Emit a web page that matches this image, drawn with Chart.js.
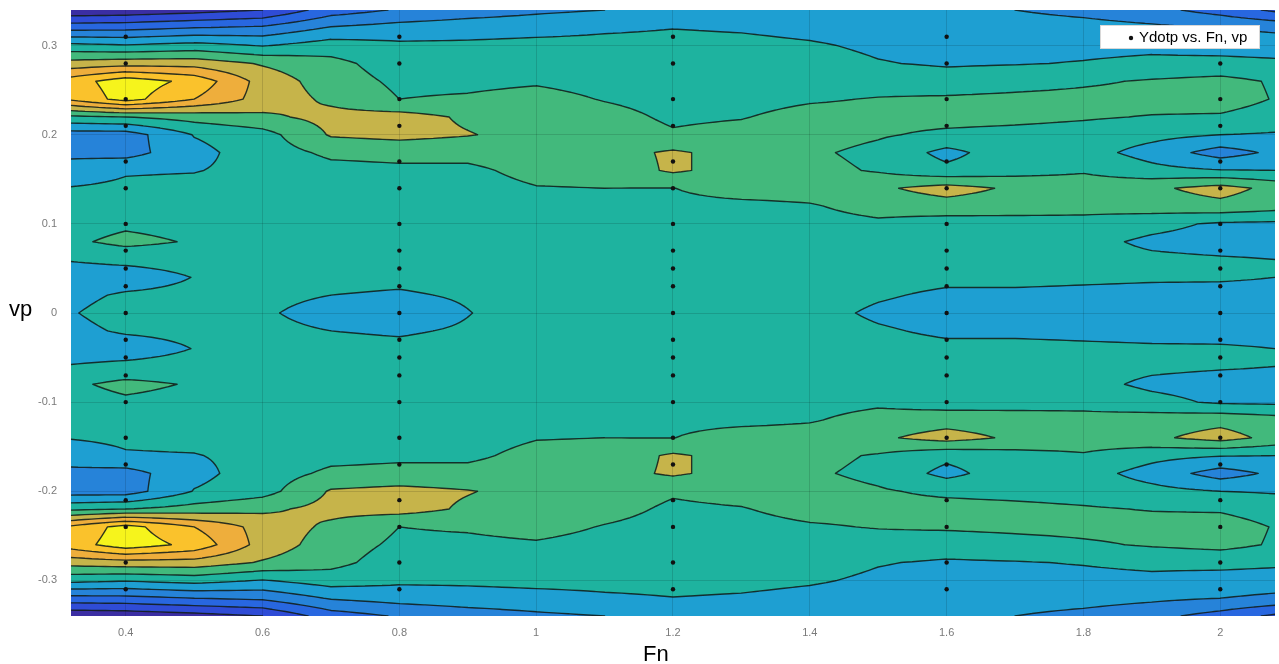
<!DOCTYPE html>
<html>
<head>
<meta charset="utf-8">
<title>Ydotp vs. Fn, vp</title>
<script src="https://cdn.jsdelivr.net/npm/chart.js@4.4.1/dist/chart.umd.min.js"></script>
<style>
  html, body { margin: 0; padding: 0; background: #fff; }
  #wrap { width: 1279px; height: 664px; }
</style>
</head>
<body>
<div id="wrap"><canvas id="contourChart" width="1279" height="664"></canvas></div>
<script>
// measured points (black dots)
const fnSamples = [0.4, 0.8, 1.2, 1.6, 2.0];
const vpSamples = [0.31, 0.28, 0.24, 0.21, 0.17, 0.14, 0.10, 0.07, 0.05, 0.03, 0,
                   -0.03, -0.05, -0.07, -0.10, -0.14, -0.17, -0.21, -0.24, -0.28, -0.31];

// fitted surface, in contour-level units
// columns = fnGrid, rows = vpGrid (top row first)
const fnGrid = [0.32, 0.4, 0.5, 0.6, 0.7, 0.8, 0.9, 1.0, 1.1, 1.2, 1.3, 1.4, 1.5, 1.6, 1.7, 1.8, 1.9, 2.0, 2.08];
const vpGrid = [0.34, 0.32, 0.30, 0.28, 0.26, 0.24, 0.22, 0.20, 0.18, 0.16, 0.14, 0.12, 0.10, 0.08, 0.06, 0.04, 0.02, 0,
                -0.02, -0.04, -0.06, -0.08, -0.10, -0.12, -0.14, -0.16, -0.18, -0.20, -0.22, -0.24, -0.26, -0.28, -0.30, -0.32, -0.34];
const zGrid = [
  [0.2, 0.3, 0.6, 1.0, 2.5, 3.1, 3.5, 3.8, 4.0, 4.2, 4.3, 4.35, 4.35, 4.3, 4.0, 3.7, 3.3, 2.6, 1.8],
  [2.64, 2.7, 3.0, 3.2, 4.1, 4.4, 4.55, 4.65, 4.85, 4.98, 4.9, 4.75, 4.65, 4.55, 4.5, 4.4, 4.2, 4.0, 3.8],
  [5.3, 5.1, 5.4, 4.95, 5.5, 5.2, 5.2, 5.3, 5.3, 5.3, 5.25, 5.1, 4.85, 4.7, 4.7, 4.75, 4.8, 4.6, 4.5],
  [7.4, 7.6, 7.6, 6.9, 6.3, 5.5, 5.5, 5.6, 5.5, 5.45, 5.45, 5.35, 5.05, 4.9, 4.95, 5.05, 5.2, 5.3, 5.2],
  [9.5, 10.6, 9.7, 7.6, 6.5, 5.8, 5.8, 5.9, 5.7, 5.6, 5.55, 5.6, 5.6, 5.4, 5.6, 5.85, 6.1, 6.3, 5.9],
  [9.2, 10.4, 9.0, 7.6, 6.8, 6.0, 6.1, 6.3, 5.95, 5.7, 5.7, 5.9, 6.05, 6.15, 6.25, 6.3, 6.35, 6.4, 5.95],
  [5.8, 6.0, 6.4, 6.8, 7.3, 7.4, 6.85, 6.6, 6.3, 5.85, 5.95, 6.3, 6.3, 6.35, 6.25, 6.1, 5.95, 5.9, 5.6],
  [3.5, 3.5, 5.05, 5.6, 7.1, 7.3, 7.05, 6.7, 6.5, 6.1, 6.3, 6.4, 6.1, 5.8, 5.7, 5.6, 5.3, 5.0, 4.9],
  [3.75, 3.6, 4.7, 5.5, 6.2, 6.3, 6.3, 6.5, 6.6, 7.15, 6.6, 6.15, 5.75, 4.7, 5.6, 5.4, 4.6, 3.55, 4.2],
  [4.45, 4.9, 4.95, 5.3, 5.7, 5.8, 5.8, 6.3, 6.4, 7.15, 6.6, 6.3, 5.9, 5.25, 5.6, 5.9, 5.3, 5.05, 5.0],
  [5.05, 5.2, 5.3, 5.4, 5.5, 5.6, 5.6, 5.95, 6.0, 5.98, 6.5, 6.5, 6.83, 7.4, 6.83, 6.5, 6.8, 7.4, 6.7],
  [5.3, 5.4, 5.5, 5.5, 5.5, 5.5, 5.5, 5.7, 5.7, 5.7, 5.7, 5.9, 6.4, 6.6, 6.45, 6.3, 6.5, 6.7, 6.4],
  [5.5, 5.8, 5.6, 5.5, 5.5, 5.5, 5.5, 5.6, 5.6, 5.6, 5.6, 5.6, 5.8, 5.5, 5.6, 5.7, 5.3, 4.85, 4.8],
  [5.8, 6.3, 5.9, 5.5, 5.4, 5.5, 5.5, 5.6, 5.6, 5.6, 5.55, 5.55, 5.5, 5.45, 5.45, 5.3, 4.8, 4.6, 4.6],
  [5.05, 5.2, 5.3, 5.5, 5.3, 5.4, 5.4, 5.6, 5.6, 5.55, 5.55, 5.5, 5.45, 5.4, 5.4, 5.35, 5.2, 5.1, 5.0],
  [4.6, 4.6, 5.02, 5.4, 5.25, 5.2, 5.3, 5.5, 5.55, 5.55, 5.5, 5.5, 5.3, 5.2, 5.2, 5.15, 5.1, 5.1, 5.0],
  [4.8, 5.1, 5.2, 5.2, 5.0, 4.9, 5.1, 5.45, 5.5, 5.5, 5.5, 5.4, 5.1, 4.85, 4.85, 4.8, 4.75, 4.7, 4.7],
  [4.95, 5.3, 5.4, 5.1, 4.7, 4.5, 4.97, 5.4, 5.5, 5.5, 5.45, 5.3, 4.85, 4.6, 4.6, 4.6, 4.5, 4.5, 4.5],
  [4.8, 5.1, 5.2, 5.2, 5.0, 4.9, 5.1, 5.45, 5.5, 5.5, 5.5, 5.4, 5.1, 4.85, 4.85, 4.8, 4.75, 4.7, 4.7],
  [4.6, 4.6, 5.02, 5.4, 5.25, 5.2, 5.3, 5.5, 5.55, 5.55, 5.5, 5.5, 5.3, 5.2, 5.2, 5.15, 5.1, 5.1, 5.0],
  [5.05, 5.2, 5.3, 5.5, 5.3, 5.4, 5.4, 5.6, 5.6, 5.55, 5.55, 5.5, 5.45, 5.4, 5.4, 5.35, 5.2, 5.1, 5.0],
  [5.8, 6.3, 5.9, 5.5, 5.4, 5.5, 5.5, 5.6, 5.6, 5.6, 5.55, 5.55, 5.5, 5.45, 5.45, 5.3, 4.8, 4.6, 4.6],
  [5.5, 5.8, 5.6, 5.5, 5.5, 5.5, 5.5, 5.6, 5.6, 5.6, 5.6, 5.6, 5.8, 5.5, 5.6, 5.7, 5.3, 4.85, 4.8],
  [5.3, 5.4, 5.5, 5.5, 5.5, 5.5, 5.5, 5.7, 5.7, 5.7, 5.7, 5.9, 6.4, 6.6, 6.45, 6.3, 6.5, 6.7, 6.4],
  [5.05, 5.2, 5.3, 5.4, 5.5, 5.6, 5.6, 5.95, 6.0, 5.98, 6.5, 6.5, 6.83, 7.4, 6.83, 6.5, 6.8, 7.4, 6.7],
  [4.45, 4.9, 4.95, 5.3, 5.7, 5.8, 5.8, 6.3, 6.4, 7.15, 6.6, 6.3, 5.9, 5.25, 5.6, 5.9, 5.3, 5.05, 5.0],
  [3.75, 3.6, 4.7, 5.5, 6.2, 6.3, 6.3, 6.5, 6.6, 7.15, 6.6, 6.15, 5.75, 4.7, 5.6, 5.4, 4.6, 3.55, 4.2],
  [3.5, 3.5, 5.05, 5.6, 7.1, 7.3, 7.05, 6.7, 6.5, 6.1, 6.3, 6.4, 6.1, 5.8, 5.7, 5.6, 5.3, 5.0, 4.9],
  [5.8, 6.0, 6.4, 6.8, 7.3, 7.4, 6.85, 6.6, 6.3, 5.85, 5.95, 6.3, 6.3, 6.35, 6.25, 6.1, 5.95, 5.9, 5.6],
  [9.2, 10.4, 9.0, 7.6, 6.8, 6.0, 6.1, 6.3, 5.95, 5.7, 5.7, 5.9, 6.05, 6.15, 6.25, 6.3, 6.35, 6.4, 5.95],
  [9.5, 10.6, 9.7, 7.6, 6.5, 5.8, 5.8, 5.9, 5.7, 5.6, 5.55, 5.6, 5.6, 5.4, 5.6, 5.85, 6.1, 6.3, 5.9],
  [7.4, 7.6, 7.6, 6.9, 6.3, 5.5, 5.5, 5.6, 5.5, 5.45, 5.45, 5.35, 5.05, 4.9, 4.95, 5.05, 5.2, 5.3, 5.2],
  [5.3, 5.1, 5.4, 4.95, 5.5, 5.2, 5.2, 5.3, 5.3, 5.3, 5.25, 5.1, 4.85, 4.7, 4.7, 4.75, 4.8, 4.6, 4.5],
  [2.64, 2.7, 3.0, 3.2, 4.1, 4.4, 4.55, 4.65, 4.85, 4.98, 4.9, 4.75, 4.65, 4.55, 4.5, 4.4, 4.2, 4.0, 3.8],
  [0.2, 0.3, 0.6, 1.0, 2.5, 3.1, 3.5, 3.8, 4.0, 4.2, 4.3, 4.35, 4.35, 4.3, 4.0, 3.7, 3.3, 2.6, 1.8]
];

// one colour per band between contour levels (parula-like)
const levelColors = ['#3b2ea3', '#2f4cd6', '#2867e0', '#2683d9', '#1e9fd2', '#1eb39f',
                     '#42b97c', '#c6b44a', '#eeae3c', '#fac22c', '#f6f41c'];

const xTicks = [0.4, 0.6, 0.8, 1.0, 1.2, 1.4, 1.6, 1.8, 2.0];
const xTickLabels = ['0.4', '0.6', '0.8', '1', '1.2', '1.4', '1.6', '1.8', '2'];
const yTicks = [-0.3, -0.2, -0.1, 0, 0.1, 0.2, 0.3];
const yTickLabels = ['-0.3', '-0.2', '-0.1', '0', '0.1', '0.2', '0.3'];

const FONT = '"Liberation Sans", Arial, Helvetica, sans-serif';

// find segment index and fraction of v in arr (works for either order)
function locate(arr, v) {
    for (let k = 0; k < arr.length - 1; k++) {
        const a = arr[k], b = arr[k + 1];
        if ((v - a) * (v - b) <= 0) return [k, (v - a) / (b - a)];
    }
    if (Math.abs(v - arr[0]) < Math.abs(v - arr[arr.length - 1])) return [0, 0];
    return [arr.length - 2, 1];
}

function cellValue(j, i, tx, ty) {
    const top = zGrid[j][i] * (1 - tx) + zGrid[j][i + 1] * tx;
    const bot = zGrid[j + 1][i] * (1 - tx) + zGrid[j + 1][i + 1] * tx;
    return top * (1 - ty) + bot * ty;
}

function hexToRgb(h) {
    return [parseInt(h.substr(1, 2), 16), parseInt(h.substr(3, 2), 16), parseInt(h.substr(5, 2), 16)];
}

// filled contour + contour lines, drawn before the grid and the points
const contourPlugin = {
    id: 'contourPlugin',
    beforeDraw(chart) {
        const area = chart.chartArea;
        const xs = chart.scales.x, ys = chart.scales.y;
        const ctx = chart.ctx;
        const w = Math.round(area.right - area.left);
        const h = Math.round(area.bottom - area.top);

        const off = document.createElement('canvas');
        off.width = w; off.height = h;
        const octx = off.getContext('2d');
        const img = octx.createImageData(w, h);
        const rgb = levelColors.map(hexToRgb);
        const nb = levelColors.length;

        const cols = [], rows = [];
        for (let px = 0; px < w; px++) cols.push(locate(fnGrid, xs.getValueForPixel(area.left + px + 0.5)));
        for (let py = 0; py < h; py++) rows.push(locate(vpGrid, ys.getValueForPixel(area.top + py + 0.5)));

        let p = 0;
        for (let py = 0; py < h; py++) {
            const [j, ty] = rows[py];
            for (let px = 0; px < w; px++) {
                const [i, tx] = cols[px];
                const z = cellValue(j, i, tx, ty);
                const b = Math.max(0, Math.min(nb - 1, Math.floor(z)));
                const c = rgb[b];
                img.data[p++] = c[0]; img.data[p++] = c[1]; img.data[p++] = c[2]; img.data[p++] = 255;
            }
        }
        octx.putImageData(img, 0, 0);
        ctx.drawImage(off, area.left, area.top, w, h);

        // contour lines, marching squares on subdivided cells
        ctx.save();
        ctx.beginPath();
        ctx.rect(area.left, area.top, area.right - area.left, area.bottom - area.top);
        ctx.clip();
        ctx.strokeStyle = 'rgba(18,30,26,0.88)';
        ctx.lineWidth = 1.4;
        ctx.lineJoin = 'round';
        ctx.lineCap = 'round';
        ctx.beginPath();
        const S = 8;
        for (let j = 0; j < vpGrid.length - 1; j++) {
            for (let i = 0; i < fnGrid.length - 1; i++) {
                const vals = [], pxs = [], pys = [];
                for (let a = 0; a <= S; a++) {
                    vals.push([]);
                    pys.push(ys.getPixelForValue(vpGrid[j] + (vpGrid[j + 1] - vpGrid[j]) * a / S));
                    for (let b = 0; b <= S; b++) vals[a].push(cellValue(j, i, b / S, a / S));
                }
                for (let b = 0; b <= S; b++) pxs.push(xs.getPixelForValue(fnGrid[i] + (fnGrid[i + 1] - fnGrid[i]) * b / S));

                for (let a = 0; a < S; a++) {
                    for (let b = 0; b < S; b++) {
                        const v0 = vals[a][b], v1 = vals[a][b + 1], v2 = vals[a + 1][b + 1], v3 = vals[a + 1][b];
                        const x0 = pxs[b], x1 = pxs[b + 1], y0 = pys[a], y1 = pys[a + 1];
                        const lo = Math.min(v0, v1, v2, v3), hi = Math.max(v0, v1, v2, v3);
                        for (let L = Math.ceil(lo); L <= hi && L < nb; L++) {
                            if (L < 1) continue;
                            const pts = [null, null, null, null];
                            let n = 0;
                            if ((v0 >= L) !== (v1 >= L)) { const t = (L - v0) / (v1 - v0); pts[0] = [x0 + (x1 - x0) * t, y0]; n++; }
                            if ((v1 >= L) !== (v2 >= L)) { const t = (L - v1) / (v2 - v1); pts[1] = [x1, y0 + (y1 - y0) * t]; n++; }
                            if ((v3 >= L) !== (v2 >= L)) { const t = (L - v3) / (v2 - v3); pts[2] = [x0 + (x1 - x0) * t, y1]; n++; }
                            if ((v0 >= L) !== (v3 >= L)) { const t = (L - v0) / (v3 - v0); pts[3] = [x0, y0 + (y1 - y0) * t]; n++; }
                            if (n === 2) {
                                const q = pts.filter(Boolean);
                                ctx.moveTo(q[0][0], q[0][1]); ctx.lineTo(q[1][0], q[1][1]);
                            } else if (n === 4) {
                                const m = (v0 + v1 + v2 + v3) / 4;
                                if ((m >= L) === (v0 >= L)) {
                                    ctx.moveTo(pts[0][0], pts[0][1]); ctx.lineTo(pts[1][0], pts[1][1]);
                                    ctx.moveTo(pts[2][0], pts[2][1]); ctx.lineTo(pts[3][0], pts[3][1]);
                                } else {
                                    ctx.moveTo(pts[3][0], pts[3][1]); ctx.lineTo(pts[0][0], pts[0][1]);
                                    ctx.moveTo(pts[1][0], pts[1][1]); ctx.lineTo(pts[2][0], pts[2][1]);
                                }
                            }
                        }
                    }
                }
            }
        }
        ctx.stroke();
        ctx.restore();
    },
    afterDraw(chart) {
        const ctx = chart.ctx;
        const area = chart.chartArea;
        ctx.save();
        // legend box inside the axes, top right
        const bw = 160, bh = 24;
        const bx = area.right - 175, by = area.top + 15;
        ctx.fillStyle = '#ffffff';
        ctx.fillRect(bx, by, bw, bh);
        ctx.strokeStyle = '#d8d8d8';
        ctx.lineWidth = 1;
        ctx.strokeRect(bx + 0.5, by + 0.5, bw - 1, bh - 1);
        ctx.fillStyle = '#111';
        ctx.beginPath();
        ctx.arc(bx + 31, by + 13, 2.2, 0, Math.PI * 2);
        ctx.fill();
        ctx.font = '15px ' + FONT;
        ctx.textBaseline = 'middle';
        ctx.textAlign = 'left';
        ctx.fillStyle = '#000';
        ctx.fillText(chart.data.datasets[0].label, bx + 39, by + 12.5);

        // axis titles
        ctx.font = '22px ' + FONT;
        ctx.textBaseline = 'alphabetic';
        ctx.fillText('vp', 9, 316);
        ctx.fillText('Fn', 643, 661);
        ctx.restore();
    }
};

// scatter of the measured points
const points = [];
fnSamples.forEach(function(fn) {
    vpSamples.forEach(function(vp) { points.push({ x: fn, y: vp }); });
});

function noOverflow(s) {
    s.paddingTop = 0; s.paddingBottom = 0; s.paddingLeft = 0; s.paddingRight = 0;
}

const canvas = document.getElementById('contourChart');
const chart = new Chart(canvas.getContext('2d'), {
    type: 'scatter',
    data: {
        datasets: [{
            label: 'Ydotp vs. Fn, vp',
            data: points,
            backgroundColor: '#111',
            borderColor: '#111',
            pointRadius: 2.2,
            pointBorderWidth: 0
        }]
    },
    options: {
        responsive: false,
        animation: false,
        events: [],
        layout: { padding: { top: 10, right: 2, bottom: 0, left: 0 } },
        plugins: {
            legend: { display: false },
            tooltip: { enabled: false }
        },
        scales: {
            x: {
                type: 'linear',
                min: 0.32,
                max: 2.08,
                afterFit: function(s) { s.height = 48; noOverflow(s); },
                afterBuildTicks: function(axis) { axis.ticks = xTicks.map(function(v) { return { value: v }; }); },
                ticks: {
                    autoSkip: false,
                    maxRotation: 0,
                    padding: 10,
                    color: '#7a7a7a',
                    font: { family: FONT, size: 11 },
                    callback: function(v, idx) { return xTickLabels[idx]; }
                },
                grid: { color: 'rgba(0,0,0,0.13)', drawTicks: false },
                border: { display: false }
            },
            y: {
                type: 'linear',
                min: -0.34,
                max: 0.34,
                afterFit: function(s) { s.width = 71; noOverflow(s); },
                afterBuildTicks: function(axis) { axis.ticks = yTicks.map(function(v) { return { value: v }; }); },
                ticks: {
                    autoSkip: false,
                    padding: 14,
                    color: '#7a7a7a',
                    font: { family: FONT, size: 11 },
                    callback: function(v, idx) { return yTickLabels[idx]; }
                },
                grid: { color: 'rgba(0,0,0,0.13)', drawTicks: false },
                border: { display: false }
            }
        }
    },
    plugins: [contourPlugin]
});
</script>
</body>
</html>
